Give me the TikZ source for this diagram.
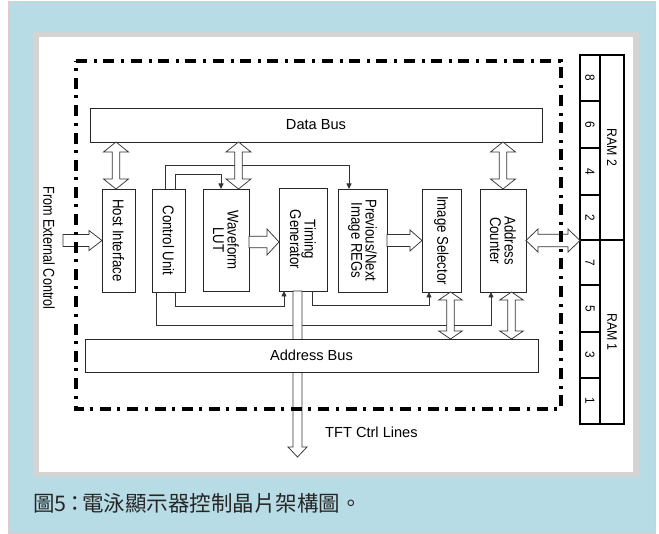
\documentclass[tikz,border=0pt]{standalone}
\usepackage{fontspec}
\setmainfont{Liberation Sans}
\newfontfamily\cjkfont{Noto Sans CJK TC}
\usetikzlibrary{calc,arrows.meta}
\definecolor{bgblue}{HTML}{B8DCE6}
\definecolor{framegray}{HTML}{D4D4D4}
\definecolor{edgepink}{HTML}{E2C9C9}
\tikzset{
  blk/.style={draw=black!85, line width=0.9pt, fill=white, inner sep=0pt, outer sep=0pt},
  ramc/.style={draw=black, line width=1.1pt, fill=white, inner sep=0pt, outer sep=0pt},
  lbl/.style={rotate=-90, yscale=1.18, font=\fontsize{13.2}{12.2}\selectfont, align=center, inner sep=0pt},
  ramt/.style={rotate=-90, yscale=1.12, font=\fontsize{11.8}{13}\selectfont, inner sep=0pt},
  busl/.style={font=\fontsize{14.6}{16}\selectfont},
  conn/.style={draw=black!80, line width=0.8pt},
  tip/.style={-{Triangle[length=5.5pt,width=5pt]}},
  harrow/.style={draw=black!80, fill=white, line width=0.75pt, line join=miter},
  dashframe/.style={draw=black, line width=3.5pt, dash pattern=on 11pt off 7pt on 3pt off 6.3pt}
}
% vertical double hollow arrow: #1 top ref, #2 bottom ref (x taken from it), #3 x shift, #4 shaft half, #5 head half, #6 head length
\newcommand{\vdbl}[6]{\draw[harrow] let \p1=#1, \p2=#2, \p3=(\x2+#3,\y1) in
  (\x3,\y1) -- (\x3+#5,\y1-#6) -- (\x3+#4,\y1-#6) -- (\x3+#4,\y2+#6) -- (\x3+#5,\y2+#6) -- (\x3,\y2)
  -- (\x3-#5,\y2+#6) -- (\x3-#4,\y2+#6) -- (\x3-#4,\y1-#6) -- (\x3-#5,\y1-#6) -- cycle;}
% vertical single hollow arrow, pointing down to #2
\newcommand{\vsgl}[6]{\draw[harrow] let \p1=#1, \p2=#2, \p3=(\x2+#3,\y1) in
  (\x3-#4,\y1) -- (\x3+#4,\y1) -- (\x3+#4,\y2+#6) -- (\x3+#5,\y2+#6) -- (\x3,\y2)
  -- (\x3-#5,\y2+#6) -- (\x3-#4,\y2+#6) -- cycle;}
% horizontal double hollow arrow: #1 left ref (y taken from it), #2 right ref
\newcommand{\hdbl}[6]{\draw[harrow] let \p1=#1, \p2=#2, \p3=(\x1,\y1+#3) in
  (\x1,\y3) -- (\x1+#6,\y3+#5) -- (\x1+#6,\y3+#4) -- (\x2-#6,\y3+#4) -- (\x2-#6,\y3+#5) -- (\x2,\y3)
  -- (\x2-#6,\y3-#5) -- (\x2-#6,\y3-#4) -- (\x1+#6,\y3-#4) -- (\x1+#6,\y3-#5) -- cycle;}
% horizontal single hollow arrow, pointing right to #2
\newcommand{\hsgl}[6]{\draw[harrow] let \p1=#1, \p2=#2, \p3=(\x1,\y1+#3) in
  (\x1,\y3+#4) -- (\x2-#6,\y3+#4) -- (\x2-#6,\y3+#5) -- (\x2,\y3)
  -- (\x2-#6,\y3-#5) -- (\x2-#6,\y3-#4) -- (\x1,\y3-#4) -- cycle;}
\begin{document}
\begin{tikzpicture}[x=1pt,y=-1pt]
\useasboundingbox (0,0) rectangle (659,534);
% background panels
\fill[white] (0,0) rectangle (659,534);
\draw[edgepink, fill=bgblue, line width=0.8pt] (8.5,1) rectangle (655.5,533.5);
\fill[framegray] (33,32) rectangle (639,477);
\fill[white] (39,37) rectangle (633,472);

% blocks
\node[blk, minimum width=452pt, minimum height=34pt, busl] (databus) at (316,125) {Data Bus};
\node[blk, minimum width=33pt, minimum height=103pt] (host) at (118.5,240.5) {};
\node[blk, minimum width=33pt, minimum height=103pt] (ctrl) at (168.5,240.5) {};
\node[blk, minimum width=46pt, minimum height=102pt] (wave) at (226,240) {};
\node[blk, minimum width=48pt, minimum height=103pt] (timing) at (303,239.5) {};
\node[blk, minimum width=49pt, minimum height=103pt] (prev) at (362.5,240.5) {};
\node[blk, minimum width=39pt, minimum height=103pt] (imgsel) at (441.5,240.5) {};
\node[blk, minimum width=46pt, minimum height=103pt] (addrcnt) at (503,240.5) {};

% RAM
\foreach \n/\yc/\h in {8/78/46, 6/124.5/47, 4/171.5/47, 2/217.5/45, 7/262.5/45, 5/308.5/47, 3/355/46, 1/401/46} {
  \node[ramc, minimum width=20pt, minimum height=\h pt] (r\n) at (590,\yc) {};
  \node[ramt] at (r\n) {\n};
}
\node[ramc, minimum width=24pt, minimum height=185pt] (ram2) at (612,147.5) {};
\node[ramc, minimum width=24pt, minimum height=184pt] (ram1) at (612,332) {};
\node[ramt, font=\fontsize{12.3}{13}\selectfont] at (ram2) {RAM 2};
\node[ramt, font=\fontsize{12.3}{13}\selectfont] at (ram1) {RAM 1};
\draw[line width=2.2pt] (r2.south west) -- (ram2.south east);

% thin control connectors
\draw[conn, tip] ([xshift=-3.5pt]ctrl.north) -- ++(0,-24) -| ([xshift=-13.5pt]prev.north);
\draw[conn, tip] ([xshift=6.5pt]ctrl.north) -- ++(0,-15) -| ([xshift=-5pt]wave.north);
\draw[conn, tip] ([xshift=6.5pt]ctrl.south) -- ++(0,14) -| ([xshift=-19pt]timing.south);
\draw[conn, tip] ([xshift=-12.5pt]ctrl.south) -- ++(0,33) -| ([xshift=-12pt]addrcnt.south);
\draw[conn, tip] ([xshift=9pt]timing.south) -- ++(0,14) -| ([xshift=-12.5pt]imgsel.south);

% hollow arrows
\coordinate (ext) at (63,240.5);
\coordinate (tft) at (297.5,457);
\vdbl{(host.north |- databus.south)}{(host.north)}{-2.5pt}{3.7pt}{12.5pt}{10pt}
\vdbl{(wave.north |- databus.south)}{(wave.north)}{12.5pt}{3.7pt}{12.5pt}{10pt}
\vdbl{(addrcnt.north |- databus.south)}{(addrcnt.north)}{0pt}{3.7pt}{12.5pt}{10pt}
\vsgl{(timing.south)}{(tft)}{0pt}{4.5pt}{9.5pt}{10pt}
\hsgl{(ext)}{(host.west)}{0pt}{6pt}{10pt}{13pt}
\hsgl{(wave.east)}{(timing.west)}{-2pt}{5.8pt}{13pt}{12pt}
\hsgl{(prev.east)}{(imgsel.west)}{0pt}{6pt}{10.5pt}{12pt}
\hdbl{(addrcnt.east)}{(r2.south west)}{0pt}{6.3pt}{11.5pt}{12pt}

% address bus (over the TFT arrow shaft)
\node[blk, minimum width=453pt, minimum height=33pt, busl] (addrbus) at (311.5,355.5) {Address Bus};
\vdbl{(imgsel.south)}{(imgsel.south |- addrbus.north)}{9pt}{3.7pt}{11.8pt}{8pt}
\vdbl{(addrcnt.south)}{(addrcnt.south |- addrbus.north)}{8.5pt}{3.7pt}{11.8pt}{8pt}

% block labels
\node[lbl] at (host) {Host Interface};
\node[lbl] at (ctrl) {Control Unit};
\node[lbl] at (wave) {Waveform\\LUT};
\node[lbl] at (timing) {Timing\\Generator};
\node[lbl] at (prev) {Previous/Next\\Image REGs};
\node[lbl] at (imgsel) {Image Selector};
\node[lbl] at (addrcnt) {Address\\Counter};

% dash-dot chip boundary
\draw[dashframe] (76,61) -- (561,61) -- (561,409) -- (76,409) -- cycle;

% outer texts
\node[rotate=-90, yscale=1.25, font=\fontsize{12.6}{14}\selectfont, inner sep=0pt] (extl) at (49,248) {From External Control};
\node[anchor=west, inner sep=0pt, busl] (tftl) at (325,432) {TFT Ctrl Lines};
\node[anchor=west, inner sep=0pt, font=\cjkfont\fontsize{21.5}{24}\selectfont, text=black!85] (cap) at (33,503) {圖5\kern-2pt：\kern-4pt電泳顯示器控制晶片架構圖。};
\end{tikzpicture}
\end{document}
